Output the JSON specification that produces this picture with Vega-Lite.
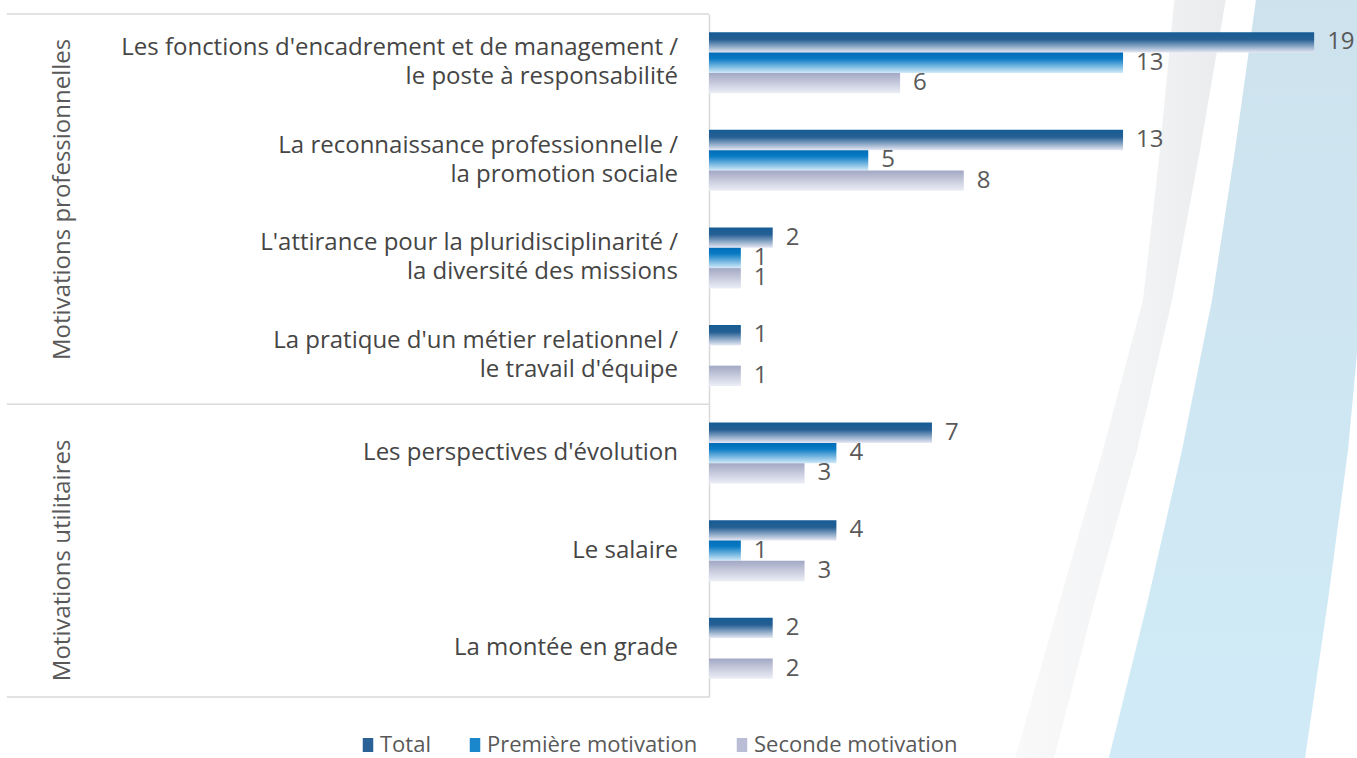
{
  "$schema": "https://vega.github.io/schema/vega-lite/v6.json",
  "autosize": "none",
  "width": 637,
  "height": 683,
  "padding": {"left": 709, "top": 14, "right": 11, "bottom": 61},
  "background": "white",
  "config": {
    "view": {"stroke": null},
    "font": "Open Sans",
    "axis": {"grid": false}
  },
  "datasets": {
    "bars": [
      {"cat": "Les fonctions d'encadrement et de management /|le poste à responsabilité", "series": "Total", "value": 19},
      {"cat": "Les fonctions d'encadrement et de management /|le poste à responsabilité", "series": "Première motivation", "value": 13},
      {"cat": "Les fonctions d'encadrement et de management /|le poste à responsabilité", "series": "Seconde motivation", "value": 6},
      {"cat": "La reconnaissance professionnelle /|la promotion sociale", "series": "Total", "value": 13},
      {"cat": "La reconnaissance professionnelle /|la promotion sociale", "series": "Première motivation", "value": 5},
      {"cat": "La reconnaissance professionnelle /|la promotion sociale", "series": "Seconde motivation", "value": 8},
      {"cat": "L'attirance pour la pluridisciplinarité /|la diversité des missions", "series": "Total", "value": 2},
      {"cat": "L'attirance pour la pluridisciplinarité /|la diversité des missions", "series": "Première motivation", "value": 1},
      {"cat": "L'attirance pour la pluridisciplinarité /|la diversité des missions", "series": "Seconde motivation", "value": 1},
      {"cat": "La pratique d'un métier relationnel /|le travail d'équipe", "series": "Total", "value": 1},
      {"cat": "La pratique d'un métier relationnel /|le travail d'équipe", "series": "Première motivation", "value": 0},
      {"cat": "La pratique d'un métier relationnel /|le travail d'équipe", "series": "Seconde motivation", "value": 1},
      {"cat": "Les perspectives d'évolution", "series": "Total", "value": 7},
      {"cat": "Les perspectives d'évolution", "series": "Première motivation", "value": 4},
      {"cat": "Les perspectives d'évolution", "series": "Seconde motivation", "value": 3},
      {"cat": "Le salaire", "series": "Total", "value": 4},
      {"cat": "Le salaire", "series": "Première motivation", "value": 1},
      {"cat": "Le salaire", "series": "Seconde motivation", "value": 3},
      {"cat": "La montée en grade", "series": "Total", "value": 2},
      {"cat": "La montée en grade", "series": "Première motivation", "value": 0},
      {"cat": "La montée en grade", "series": "Seconde motivation", "value": 2}
    ],
    "frameTop": [
      {"cat": "Les fonctions d'encadrement et de management /|le poste à responsabilité", "x0": -22.05, "x1": 0},
      {"cat": "Les perspectives d'évolution", "x0": -22.05, "x1": 0}
    ],
    "frameBottom": [
      {"cat": "La montée en grade", "x0": -22.05, "x1": 0}
    ],
    "group1": [
      {"cat": "La reconnaissance professionnelle /|la promotion sociale", "label": "Motivations professionnelles", "xg": -20.28}
    ],
    "group2": [
      {"cat": "Le salaire", "label": "Motivations utilitaires", "xg": -20.28}
    ],
    "decoGray": [
      {"type": "Feature", "properties": {"shape": "gray"}, "geometry": {"type": "Polygon", "coordinates": [[[155.01, -1], [153.03, 19.79], [150.79, 39.58], [145.51, 59.37], [139.84, 79.16], [133.64, 101], [138.79, 101], [144.46, 79.16], [150.0, 59.37], [154.62, 39.58], [158.31, 19.79], [161.87, -1], [155.01, -1]]]}}
    ],
    "decoBlue": [
      {"type": "Feature", "properties": {"shape": "blue"}, "geometry": {"type": "Polygon", "coordinates": [[[165.83, -1], [162.93, 19.79], [159.89, 39.58], [155.94, 59.37], [151.45, 79.16], [146.04, 101], [172.03, 101], [175.2, 79.16], [177.84, 59.37], [179.68, 39.58], [184.04, 19.79], [184.7, -1], [165.83, -1]]]}}
    ]
  },
  "layer": [
    {
      "data": {"name": "decoGray"},
      "mark": {
        "type": "geoshape",
        "clip": false,
        "strokeWidth": 0,
        "color": {"gradient": "linear", "x1": 0, "y1": 0, "x2": 1, "y2": 0,
          "stops": [{"offset": 0, "color": "#f9f9fa"}, {"offset": 0.6, "color": "#f2f3f4"}, {"offset": 1, "color": "#e9ebed"}]}
      },
      "projection": {"type": "identity", "scale": 7.58, "translate": [-709, -14]},
      "encoding": {}
    },
    {
      "data": {"name": "decoBlue"},
      "mark": {
        "type": "geoshape",
        "clip": false,
        "strokeWidth": 0,
        "color": {"gradient": "linear", "x1": 0, "y1": 0, "x2": 0, "y2": 1,
          "stops": [{"offset": 0, "color": "#cde2ed"}, {"offset": 1, "color": "#d0ebf7"}]}
      },
      "projection": {"type": "identity", "scale": 7.58, "translate": [-709, -14]},
      "encoding": {}
    },
    {
      "data": {"name": "frameTop"},
      "mark": {"type": "rule", "color": "#d9d9d9", "strokeWidth": 1.5, "clip": false},
      "encoding": {
        "y": {"field": "cat", "type": "nominal", "bandPosition": 0},
        "x": {"field": "x0", "type": "quantitative", "axis": null},
        "x2": {"field": "x1"}
      }
    },
    {
      "data": {"name": "frameBottom"},
      "mark": {"type": "rule", "color": "#d9d9d9", "strokeWidth": 1.5, "clip": false},
      "encoding": {
        "y": {"field": "cat", "type": "nominal", "bandPosition": 1},
        "x": {"field": "x0", "type": "quantitative", "axis": null},
        "x2": {"field": "x1"}
      }
    },
    {
      "data": {"name": "group1"},
      "mark": {"type": "text", "angle": 270, "align": "center", "baseline": "middle", "fontSize": 24, "color": "#595959", "clip": false},
      "encoding": {
        "y": {"field": "cat", "type": "nominal", "bandPosition": 0.9},
        "x": {"field": "xg", "type": "quantitative", "axis": null},
        "text": {"field": "label"}
      }
    },
    {
      "data": {"name": "group2"},
      "mark": {"type": "text", "angle": 270, "align": "center", "baseline": "middle", "fontSize": 24, "color": "#595959", "clip": false},
      "encoding": {
        "y": {"field": "cat", "type": "nominal", "bandPosition": 0.6},
        "x": {"field": "xg", "type": "quantitative", "axis": null},
        "text": {"field": "label"}
      }
    },
    {
      "data": {"name": "bars"},
      "mark": {"type": "bar", "opacity": 0, "clip": false},
      "encoding": {
        "y": {
          "field": "cat", "type": "nominal",
          "scale": {
            "domain": [
              "Les fonctions d'encadrement et de management /|le poste à responsabilité",
              "La reconnaissance professionnelle /|la promotion sociale",
              "L'attirance pour la pluridisciplinarité /|la diversité des missions",
              "La pratique d'un métier relationnel /|le travail d'équipe",
              "Les perspectives d'évolution",
              "Le salaire",
              "La montée en grade"
            ],
            "paddingInner": 0, "paddingOuter": 0
          },
          "axis": {
            "title": null,
            "labels": false,
            "ticks": false,
            "domainColor": "#d9d9d9",
            "domainWidth": 1.5
          }
        },
        "yOffset": {
          "field": "series", "type": "nominal",
          "scale": {"domain": ["Total", "Première motivation", "Seconde motivation"], "paddingInner": 0, "paddingOuter": 0.9}
        },
        "x": {"field": "value", "type": "quantitative", "scale": {"domain": [0, 20], "nice": false}, "axis": null},
        "color": {
          "field": "series", "type": "nominal",
          "scale": {
            "domain": ["Total", "Première motivation", "Seconde motivation"],
            "range": ["#2a6196", "#1a86cc", "#b9bed6"]
          },
          "legend": {
            "title": null,
            "orient": "none",
            "direction": "horizontal",
            "legendX": -352,
            "legendY": 720,
            "labelFontSize": 22,
            "labelColor": "#595959",
            "symbolType": "M-0.75,-1H0.75V1H-0.75Z",
            "symbolSize": 196,
            "symbolStrokeWidth": 0,
            "symbolOpacity": 1,
            "labelOffset": 1,
            "columnPadding": 33,
            "labelLimit": 0,
            "encode": {
              "symbols": {
                "update": {
                  "opacity": {"value": 1},
                  "fill": {"signal": "datum.value === 'Total' ? {gradient: 'linear', x1: 0, y1: 0, x2: 1, y2: 0, stops: [{offset: 0, color: '#dfe2ef'}, {offset: 1, color: '#1a5c95'}]} : datum.value === 'Première motivation' ? {gradient: 'linear', x1: 0, y1: 0, x2: 1, y2: 0, stops: [{offset: 0, color: '#cfe8f8'}, {offset: 1, color: '#0a6fba'}]} : {gradient: 'linear', x1: 0, y1: 0, x2: 1, y2: 0, stops: [{offset: 0, color: '#eef0f6'}, {offset: 1, color: '#a0a6c2'}]}"}
                }
              }
            }
          }
        }
      }
    },
    {
      "data": {"name": "bars"},
      "transform": [{"filter": "datum.series === 'Total' && length(split(datum.cat, '|')) > 1"}],
      "mark": {"type": "text", "align": "right", "baseline": "middle", "dx": -31, "dy": -14.5, "lineBreak": "|", "lineHeight": 29, "fontSize": 24, "color": "#454545", "clip": false},
      "encoding": {
        "y": {"field": "cat", "type": "nominal"},
        "x": {"datum": 0, "type": "quantitative", "axis": null},
        "text": {"field": "cat"}
      }
    },
    {
      "data": {"name": "bars"},
      "transform": [{"filter": "datum.series === 'Total' && length(split(datum.cat, '|')) === 1"}],
      "mark": {"type": "text", "align": "right", "baseline": "middle", "dx": -31, "fontSize": 24, "color": "#454545", "clip": false},
      "encoding": {
        "y": {"field": "cat", "type": "nominal"},
        "x": {"datum": 0, "type": "quantitative", "axis": null},
        "text": {"field": "cat"}
      }
    },
    {
      "data": {"name": "bars"},
      "transform": [{"filter": "datum.series === 'Total'"}],
      "mark": {"type": "bar", "clip": false,
        "color": {"gradient": "linear", "x1": 0, "y1": 0, "x2": 0, "y2": 1, "stops": [{"offset": 0, "color": "#155c95"}, {"offset": 0.35, "color": "#255f94"}, {"offset": 1, "color": "#e6e8f3"}]}},
      "encoding": {
        "y": {"field": "cat", "type": "nominal"},
        "yOffset": {"field": "series", "type": "nominal"},
        "x": {"field": "value", "type": "quantitative", "axis": null}
      }
    },
    {
      "data": {"name": "bars"},
      "transform": [{"filter": "datum.series === 'Première motivation'"}],
      "mark": {"type": "bar", "clip": false,
        "color": {"gradient": "linear", "x1": 0, "y1": 0, "x2": 0, "y2": 1, "stops": [{"offset": 0, "color": "#006cb8"}, {"offset": 0.3, "color": "#0a7bc4"}, {"offset": 1, "color": "#d2eaf9"}]}},
      "encoding": {
        "y": {"field": "cat", "type": "nominal"},
        "yOffset": {"field": "series", "type": "nominal"},
        "x": {"field": "value", "type": "quantitative", "axis": null}
      }
    },
    {
      "data": {"name": "bars"},
      "transform": [{"filter": "datum.series === 'Seconde motivation'"}],
      "mark": {"type": "bar", "clip": false,
        "color": {"gradient": "linear", "x1": 0, "y1": 0, "x2": 0, "y2": 1, "stops": [{"offset": 0, "color": "#a2a8c4"}, {"offset": 1, "color": "#eceef6"}]}},
      "encoding": {
        "y": {"field": "cat", "type": "nominal"},
        "yOffset": {"field": "series", "type": "nominal"},
        "x": {"field": "value", "type": "quantitative", "axis": null}
      }
    },
    {
      "data": {"name": "bars"},
      "transform": [{"filter": "datum.value > 0"}],
      "mark": {"type": "text", "align": "left", "baseline": "middle", "dx": 13, "fontSize": 24, "color": "#595959", "clip": false},
      "encoding": {
        "y": {"field": "cat", "type": "nominal"},
        "yOffset": {"field": "series", "type": "nominal"},
        "x": {"field": "value", "type": "quantitative", "axis": null},
        "text": {"field": "value", "type": "quantitative"}
      }
    }
  ]
}
